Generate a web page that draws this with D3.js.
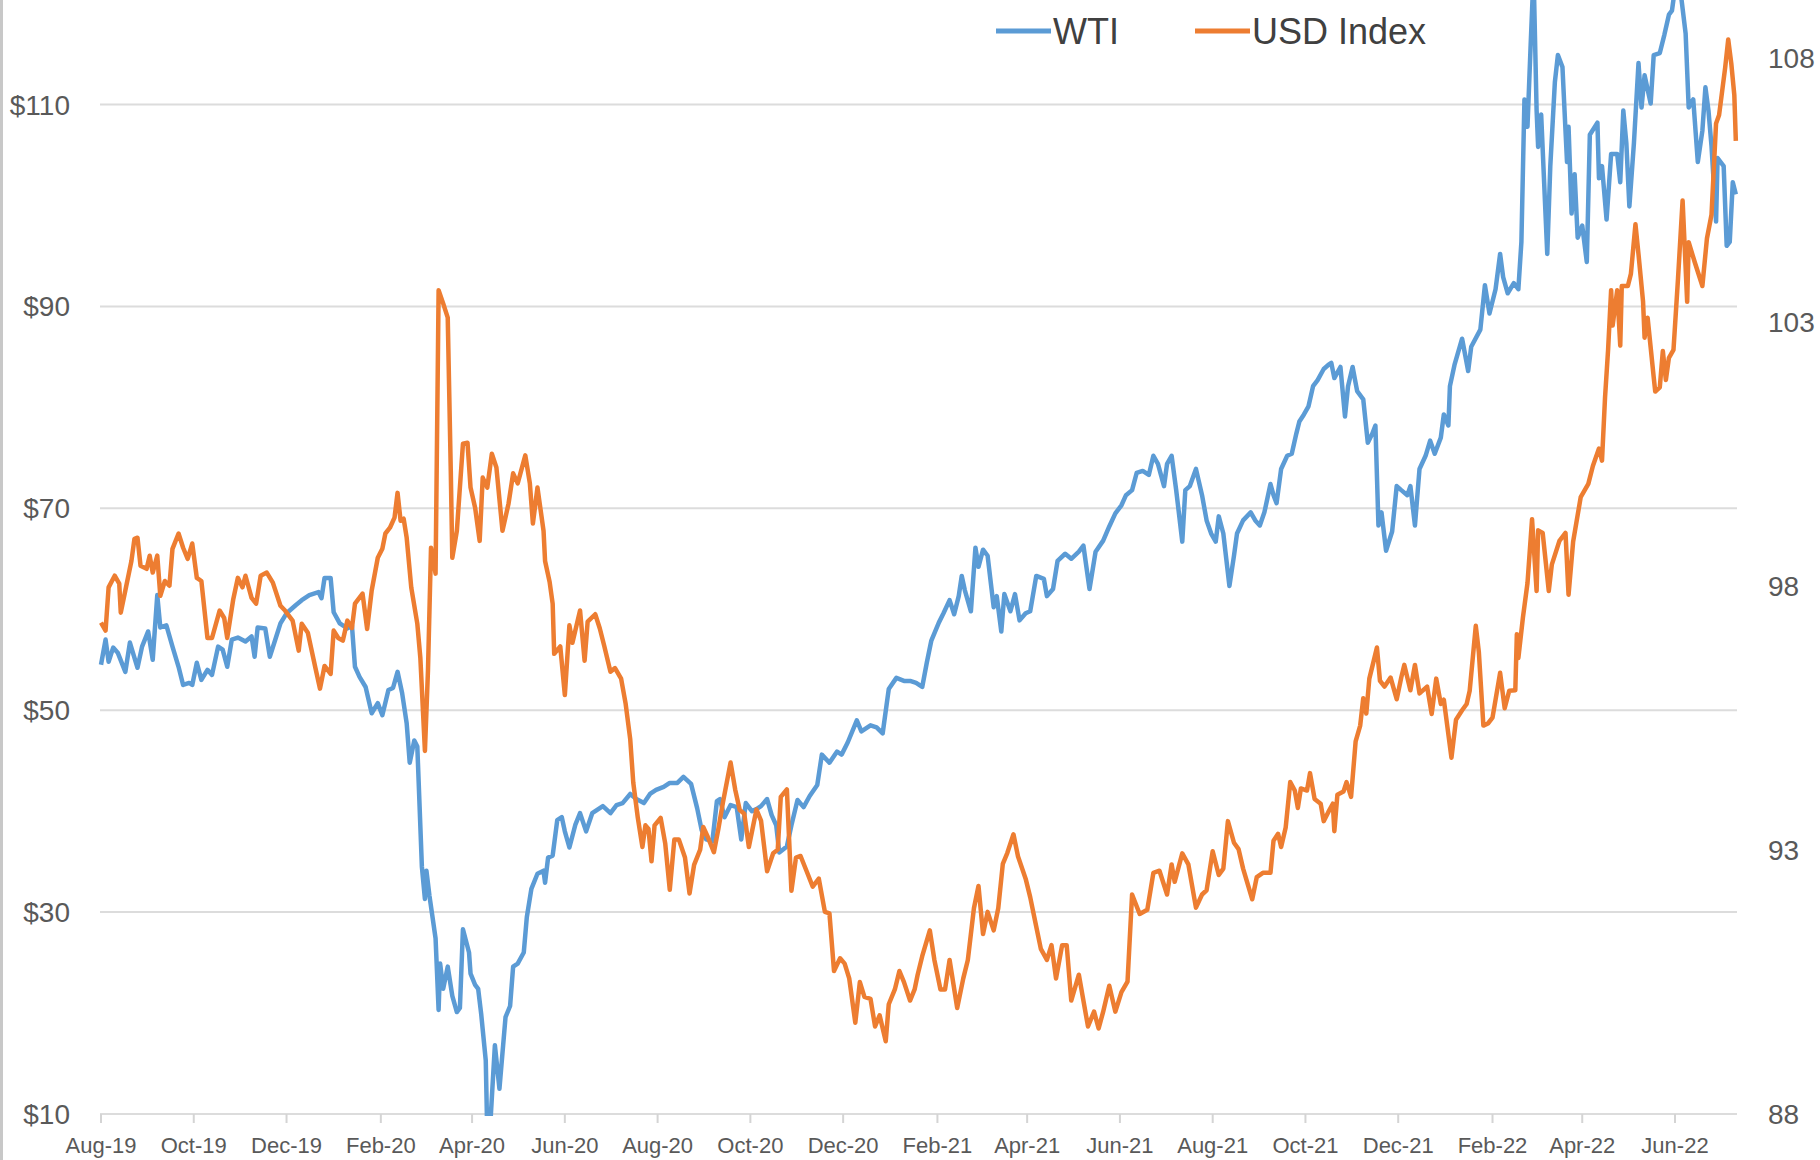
<!DOCTYPE html>
<html>
<head>
<meta charset="utf-8">
<script src="https://cdn.jsdelivr.net/npm/d3@7"></script>
<style>
  html, body { margin: 0; padding: 0; background: #fff; }
  svg { display: block; font-family: "Liberation Sans", Arial, sans-serif; }
</style>
</head>
<body>
<svg id="chart" width="1820" height="1160"></svg>
<script>
// values
const wti = [
  ["2019-08-01",54.5],["2019-08-04",57.0],["2019-08-06",54.8],["2019-08-09",56.2],["2019-08-12",55.7],["2019-08-17",53.8],["2019-08-20",56.7],["2019-08-25",54.2],["2019-08-28",56.3],["2019-09-01",57.8],["2019-09-04",55.0],["2019-09-07",61.4],["2019-09-09",58.2],["2019-09-13",58.4],["2019-09-17",56.3],["2019-09-21",54.3],["2019-09-24",52.5],["2019-09-28",52.7],["2019-09-30",52.5],
  ["2019-10-03",54.7],["2019-10-06",53.0],["2019-10-10",54.0],["2019-10-13",53.5],["2019-10-17",56.3],["2019-10-20",56.0],["2019-10-23",54.3],["2019-10-26",57.0],["2019-10-30",57.2],["2019-11-04",56.8],["2019-11-08",57.3],["2019-11-10",55.3],["2019-11-12",58.2],["2019-11-17",58.1],["2019-11-20",55.3],["2019-11-23",56.7],["2019-11-27",58.6],
  ["2019-12-01",59.6],["2019-12-07",60.4],["2019-12-11",60.9],["2019-12-16",61.4],["2019-12-22",61.7],["2019-12-24",61.1],["2019-12-26",63.1],["2019-12-30",63.1],["2020-01-01",59.7],["2020-01-05",58.6],["2020-01-10",58.1],["2020-01-13",58.4],["2020-01-15",54.3],["2020-01-18",53.3],["2020-01-22",52.3],["2020-01-26",49.7],["2020-01-30",50.7],
  ["2020-02-02",49.5],["2020-02-06",52.0],["2020-02-09",52.2],["2020-02-12",53.8],["2020-02-15",51.7],["2020-02-18",48.7],["2020-02-20",44.8],["2020-02-23",47.0],["2020-02-25",46.4],["2020-02-28",34.5],["2020-03-01",31.3],["2020-03-02",34.1],["2020-03-04",31.6],["2020-03-08",27.4],["2020-03-10",20.3],["2020-03-11",24.9],["2020-03-13",22.4],["2020-03-16",24.6],["2020-03-19",21.7],["2020-03-22",20.1],["2020-03-24",20.5],["2020-03-26",28.3],["2020-03-30",26.0],["2020-03-31",23.9],
  ["2020-04-03",22.8],["2020-04-05",22.4],["2020-04-07",19.9],["2020-04-10",15.3],["2020-04-11",8.0],["2020-04-13",9.0],["2020-04-16",16.8],["2020-04-19",12.5],["2020-04-23",19.6],["2020-04-26",20.7],["2020-04-28",24.6],["2020-05-01",24.9],["2020-05-05",26.0],["2020-05-07",29.5],["2020-05-10",32.3],["2020-05-14",33.8],["2020-05-18",34.1],["2020-05-19",32.9],["2020-05-21",35.4],["2020-05-24",35.6],["2020-05-27",39.1],["2020-05-30",39.4],
  ["2020-06-01",38.0],["2020-06-04",36.4],["2020-06-08",38.7],["2020-06-11",39.8],["2020-06-15",38.0],["2020-06-19",39.8],["2020-06-22",40.1],["2020-06-26",40.5],["2020-07-01",39.8],["2020-07-05",40.6],["2020-07-09",40.8],["2020-07-14",41.7],["2020-07-18",41.2],["2020-07-23",40.8],["2020-07-27",41.7],["2020-07-31",42.1],
  ["2020-08-05",42.4],["2020-08-09",42.8],["2020-08-14",42.8],["2020-08-18",43.4],["2020-08-23",42.7],["2020-08-27",40.3],["2020-08-30",38.1],["2020-09-02",37.2],["2020-09-06",37.0],["2020-09-09",41.0],["2020-09-11",41.2],["2020-09-14",39.4],["2020-09-18",40.6],["2020-09-22",40.4],["2020-09-25",37.2],["2020-09-28",40.8],
  ["2020-10-02",40.0],["2020-10-05",40.2],["2020-10-08",40.5],["2020-10-12",41.2],["2020-10-15",39.6],["2020-10-18",38.6],["2020-10-20",35.9],["2020-10-25",36.5],["2020-10-28",38.6],["2020-11-01",41.1],["2020-11-05",40.4],["2020-11-09",41.5],["2020-11-14",42.6],["2020-11-17",45.6],["2020-11-22",44.8],["2020-11-27",45.9],["2020-11-30",45.6],
  ["2020-12-04",46.8],["2020-12-10",49.0],["2020-12-13",47.9],["2020-12-19",48.5],["2020-12-23",48.3],["2020-12-27",47.7],["2020-12-31",52.1],["2021-01-05",53.2],["2021-01-10",52.9],["2021-01-14",52.9],["2021-01-18",52.7],["2021-01-22",52.3],["2021-01-25",54.7],["2021-01-28",56.9],
  ["2021-02-02",58.7],["2021-02-05",59.6],["2021-02-09",60.9],["2021-02-12",59.5],["2021-02-15",61.3],["2021-02-17",63.3],["2021-02-19",61.9],["2021-02-23",59.8],["2021-02-26",66.1],["2021-02-28",64.2],["2021-03-03",65.9],["2021-03-06",65.3],["2021-03-10",60.2],["2021-03-12",61.3],["2021-03-15",57.8],["2021-03-17",61.5],["2021-03-21",59.8],["2021-03-24",61.5],["2021-03-27",58.9],["2021-03-31",59.6],
  ["2021-04-03",59.8],["2021-04-07",63.3],["2021-04-12",63.0],["2021-04-14",61.3],["2021-04-18",62.0],["2021-04-21",64.8],["2021-04-26",65.5],["2021-04-30",65.0],["2021-05-05",65.7],["2021-05-08",66.3],["2021-05-12",62.0],["2021-05-16",65.7],["2021-05-21",66.8],["2021-05-25",68.2],["2021-05-29",69.5],
  ["2021-06-02",70.3],["2021-06-05",71.3],["2021-06-09",71.8],["2021-06-12",73.5],["2021-06-16",73.7],["2021-06-20",73.3],["2021-06-23",75.2],["2021-06-26",74.4],["2021-06-30",72.2],["2021-07-02",74.4],["2021-07-05",75.2],["2021-07-08",71.8],["2021-07-12",66.7],["2021-07-14",71.8],["2021-07-17",72.2],["2021-07-21",73.9],["2021-07-25",71.3],["2021-07-28",68.8],["2021-07-31",67.5],
  ["2021-08-03",66.7],["2021-08-05",69.2],["2021-08-08",67.5],["2021-08-10",64.9],["2021-08-12",62.3],["2021-08-15",65.3],["2021-08-17",67.5],["2021-08-21",68.8],["2021-08-26",69.6],["2021-08-29",68.8],["2021-09-01",68.3],["2021-09-04",69.6],["2021-09-08",72.4],["2021-09-10",71.3],["2021-09-12",70.5],["2021-09-15",73.9],["2021-09-19",75.2],["2021-09-22",75.4],["2021-09-25",77.4],["2021-09-27",78.6],["2021-09-30",79.3],
  ["2021-10-03",80.1],["2021-10-06",82.1],["2021-10-09",82.7],["2021-10-13",83.8],["2021-10-16",84.2],["2021-10-18",84.4],["2021-10-20",82.9],["2021-10-24",84.0],["2021-10-27",79.1],["2021-10-29",82.1],["2021-11-01",84.0],["2021-11-04",81.6],["2021-11-08",80.8],["2021-11-11",76.5],["2021-11-14",77.4],["2021-11-16",78.2],["2021-11-18",68.3],["2021-11-20",69.6],["2021-11-23",65.8],["2021-11-27",67.7],["2021-11-30",72.2],
  ["2021-12-03",71.8],["2021-12-07",71.3],["2021-12-09",72.2],["2021-12-12",68.3],["2021-12-15",73.9],["2021-12-19",75.2],["2021-12-22",76.7],["2021-12-25",75.4],["2021-12-29",77.0],["2021-12-31",79.3],["2022-01-03",78.2],["2022-01-04",82.1],["2022-01-07",84.2],["2022-01-12",86.8],["2022-01-16",83.6],["2022-01-18",86.0],["2022-01-24",87.7],["2022-01-27",92.1],["2022-01-30",89.3],
  ["2022-02-03",91.7],["2022-02-06",95.2],["2022-02-08",92.9],["2022-02-11",91.3],["2022-02-15",92.3],["2022-02-18",91.7],["2022-02-20",96.4],["2022-02-22",110.5],["2022-02-24",107.8],["2022-02-26",115.6],["2022-02-28",123.0],["2022-03-02",109.4],["2022-03-03",105.8],["2022-03-05",109.0],["2022-03-09",95.2],["2022-03-11",103.9],["2022-03-14",112.2],["2022-03-16",114.9],["2022-03-19",113.7],["2022-03-21",107.4],["2022-03-22",104.3],["2022-03-23",107.8],["2022-03-25",99.2],["2022-03-27",103.1],["2022-03-29",96.8],
  ["2022-04-01",98.0],["2022-04-04",94.4],["2022-04-06",107.0],["2022-04-11",108.2],["2022-04-12",102.7],["2022-04-14",103.9],["2022-04-17",98.6],["2022-04-20",105.1],["2022-04-24",105.1],["2022-04-26",102.3],["2022-04-28",109.4],["2022-04-30",106.2],["2022-05-02",99.9],["2022-05-05",106.2],["2022-05-08",114.1],["2022-05-10",109.7],["2022-05-12",112.9],["2022-05-16",110.1],["2022-05-18",114.9],["2022-05-22",115.1],["2022-05-25",116.9],["2022-05-28",118.9],["2022-05-30",119.3],
  ["2022-06-01",121.5],["2022-06-04",122.0],["2022-06-08",117.0],["2022-06-10",109.7],["2022-06-13",110.5],["2022-06-16",104.3],["2022-06-19",107.4],["2022-06-21",111.7],["2022-06-23",109.4],["2022-06-25",105.9],["2022-06-28",98.4],["2022-06-29",104.7],["2022-07-03",103.9],["2022-07-05",96.0],["2022-07-07",96.4],["2022-07-09",102.3],["2022-07-11",101.1]
];

const usd = [
  ["2019-08-01",97.30],["2019-08-04",97.15],["2019-08-06",97.97],["2019-08-10",98.19],["2019-08-13",98.04],["2019-08-14",97.49],["2019-08-17",97.91],["2019-08-21",98.47],["2019-08-23",98.89],["2019-08-25",98.91],["2019-08-27",98.38],["2019-08-31",98.32],["2019-09-02",98.57],["2019-09-04",98.25],["2019-09-07",98.57],["2019-09-09",97.81],["2019-09-12",98.09],["2019-09-15",98.0],["2019-09-17",98.70],["2019-09-21",98.99],["2019-09-24",98.72],["2019-09-27",98.51],["2019-09-30",98.80],
  ["2019-10-03",98.15],["2019-10-06",98.09],["2019-10-10",97.01],["2019-10-13",97.01],["2019-10-18",97.53],["2019-10-21",97.39],["2019-10-23",97.01],["2019-10-27",97.75],["2019-10-30",98.15],["2019-11-02",97.97],["2019-11-04",98.19],["2019-11-08",97.77],["2019-11-11",97.66],["2019-11-14",98.19],["2019-11-18",98.25],["2019-11-22",98.06],["2019-11-27",97.62],["2019-11-30",97.53],
  ["2019-12-05",97.34],["2019-12-09",96.77],["2019-12-11",97.28],["2019-12-15",97.11],["2019-12-20",96.44],["2019-12-23",96.05],["2019-12-26",96.48],["2019-12-30",96.33],["2020-01-01",97.15],["2020-01-04",97.01],["2020-01-07",96.96],["2020-01-10",97.34],["2020-01-13",97.20],["2020-01-15",97.66],["2020-01-20",97.85],["2020-01-23",97.18],["2020-01-26",97.91],["2020-01-30",98.53],
  ["2020-02-02",98.70],["2020-02-04",98.99],["2020-02-07",99.10],["2020-02-10",99.29],["2020-02-12",99.76],["2020-02-14",99.23],["2020-02-16",99.27],["2020-02-18",98.91],["2020-02-21",97.97],["2020-02-25",97.28],["2020-02-27",96.63],["2020-03-01",94.87],["2020-03-03",96.39],["2020-03-05",98.72],["2020-03-08",98.23],["2020-03-10",103.6],["2020-03-13",103.35],["2020-03-16",103.08],["2020-03-18",100.18],["2020-03-19",98.53],["2020-03-22",99.04],["2020-03-26",100.69],["2020-03-29",100.71],["2020-03-31",99.86],
  ["2020-04-03",99.48],["2020-04-06",98.85],["2020-04-08",100.05],["2020-04-11",99.86],["2020-04-14",100.50],["2020-04-17",100.24],["2020-04-21",99.04],["2020-04-25",99.56],["2020-04-28",100.13],["2020-05-01",99.94],["2020-05-06",100.47],["2020-05-09",99.94],["2020-05-11",99.18],["2020-05-14",99.86],["2020-05-18",99.04],["2020-05-19",98.47],["2020-05-22",98.07],["2020-05-24",97.66],["2020-05-25",96.71],["2020-05-29",96.85],
  ["2020-06-01",95.93],["2020-06-04",97.25],["2020-06-06",96.92],["2020-06-11",97.53],["2020-06-14",96.58],["2020-06-16",97.32],["2020-06-21",97.46],["2020-06-24",97.19],["2020-06-27",96.85],["2020-07-01",96.37],["2020-07-04",96.44],["2020-07-08",96.24],["2020-07-11",95.76],["2020-07-14",95.09],["2020-07-16",94.27],["2020-07-19",93.60],["2020-07-22",93.05],["2020-07-24",93.46],["2020-07-26",93.39],["2020-07-28",92.78],["2020-07-30",93.46],
  ["2020-08-03",93.60],["2020-08-06",93.12],["2020-08-09",92.24],["2020-08-12",93.19],["2020-08-15",93.19],["2020-08-19",92.85],["2020-08-22",92.17],["2020-08-25",92.71],["2020-08-29",93.0],["2020-08-31",93.43],["2020-09-03",93.24],["2020-09-07",92.95],["2020-09-10",93.4],["2020-09-13",93.9],["2020-09-18",94.65],["2020-09-21",94.14],["2020-09-24",93.75],["2020-09-27",93.68],["2020-09-30",93.05],
  ["2020-10-05",93.76],["2020-10-08",93.55],["2020-10-12",92.59],["2020-10-16",92.93],["2020-10-19",93.0],["2020-10-21",94.0],["2020-10-25",94.14],["2020-10-28",92.22],["2020-10-31",92.85],["2020-11-03",92.88],["2020-11-07",92.59],["2020-11-11",92.3],["2020-11-15",92.45],["2020-11-19",91.82],["2020-11-22",91.79],["2020-11-25",90.70],["2020-11-29",90.94],
  ["2020-12-02",90.84],["2020-12-05",90.56],["2020-12-09",89.72],["2020-12-12",90.49],["2020-12-15",90.21],["2020-12-19",90.17],["2020-12-22",89.65],["2020-12-25",89.86],["2020-12-29",89.37],["2020-12-31",90.07],["2021-01-04",90.35],["2021-01-07",90.70],["2021-01-10",90.49],["2021-01-14",90.14],["2021-01-17",90.35],["2021-01-19",90.63],["2021-01-22",90.98],["2021-01-27",91.47],["2021-01-30",90.91],
  ["2021-02-03",90.35],["2021-02-06",90.35],["2021-02-09",90.91],["2021-02-14",90.0],["2021-02-18",90.56],["2021-02-21",90.91],["2021-02-25",91.89],["2021-02-28",92.31],["2021-03-03",91.40],["2021-03-06",91.82],["2021-03-10",91.47],["2021-03-13",91.89],["2021-03-16",92.73],["2021-03-19",92.94],["2021-03-23",93.29],["2021-03-26",92.87],["2021-03-31",92.45],
  ["2021-04-03",92.10],["2021-04-07",91.54],["2021-04-10",91.12],["2021-04-14",90.91],["2021-04-17",91.19],["2021-04-20",90.56],["2021-04-24",91.19],["2021-04-27",91.19],["2021-04-30",90.14],["2021-05-05",90.63],["2021-05-08",90.14],["2021-05-11",89.65],["2021-05-15",89.93],["2021-05-18",89.61],["2021-05-21",89.93],["2021-05-25",90.42],["2021-05-29",89.93],
  ["2021-06-02",90.3],["2021-06-06",90.50],["2021-06-09",92.15],["2021-06-14",91.78],["2021-06-19",91.86],["2021-06-23",92.56],["2021-06-27",92.60],["2021-07-02",92.15],["2021-07-05",92.72],["2021-07-07",92.39],["2021-07-12",92.93],["2021-07-16",92.72],["2021-07-21",91.90],["2021-07-25",92.15],["2021-07-28",92.23],
  ["2021-08-01",92.97],["2021-08-05",92.52],["2021-08-08",92.64],["2021-08-11",93.54],["2021-08-15",93.13],["2021-08-18",93.01],["2021-08-21",92.64],["2021-08-27",92.06],["2021-08-30",92.48],["2021-09-03",92.56],["2021-09-08",92.56],["2021-09-10",93.17],["2021-09-13",93.30],["2021-09-15",93.05],["2021-09-18",93.42],["2021-09-21",94.28],["2021-09-24",94.12],["2021-09-26",93.79],["2021-09-28",94.16],
  ["2021-10-02",94.12],["2021-10-04",94.45],["2021-10-07",93.96],["2021-10-11",93.87],["2021-10-13",93.54],["2021-10-16",93.71],["2021-10-19",93.87],["2021-10-20",93.35],["2021-10-22",94.04],["2021-10-26",94.1],["2021-10-28",94.28],["2021-10-31",94.0],["2021-11-03",95.05],["2021-11-06",95.35],["2021-11-08",95.87],["2021-11-10",95.58],["2021-11-12",96.24],["2021-11-15",96.59],["2021-11-17",96.83],["2021-11-19",96.2],["2021-11-22",96.09],["2021-11-26",96.26],["2021-11-30",95.85],
  ["2021-12-03",96.26],["2021-12-05",96.50],["2021-12-09",96.02],["2021-12-12",96.50],["2021-12-15",95.96],["2021-12-20",96.09],["2021-12-23",95.57],["2021-12-26",96.24],["2021-12-29",95.76],["2021-12-31",95.84],["2022-01-05",94.74],["2022-01-08",95.46],["2022-01-12",95.64],["2022-01-15",95.76],["2022-01-17",96.01],["2022-01-21",97.24],["2022-01-23",96.75],["2022-01-26",95.35],["2022-01-29",95.39],
  ["2022-02-01",95.5],["2022-02-05",96.18],["2022-02-06",96.35],["2022-02-09",95.68],["2022-02-12",96.01],["2022-02-16",96.02],["2022-02-17",97.08],["2022-02-18",96.63],["2022-02-21",97.4],["2022-02-24",98.05],["2022-02-27",99.26],["2022-03-02",97.90],["2022-03-03",99.05],["2022-03-06",99.0],["2022-03-10",97.90],["2022-03-12",98.4],["2022-03-17",98.85],["2022-03-21",99.0],["2022-03-23",97.83],["2022-03-26",98.83],["2022-03-31",99.68],
  ["2022-04-05",99.93],["2022-04-08",100.27],["2022-04-12",100.6],["2022-04-14",100.37],["2022-04-16",101.57],["2022-04-18",102.47],["2022-04-20",103.60],["2022-04-21",102.93],["2022-04-24",103.60],["2022-04-26",102.55],["2022-04-27",103.68],["2022-05-01",103.68],["2022-05-03",103.91],["2022-05-06",104.85],["2022-05-08",104.28],["2022-05-11",103.38],["2022-05-12",102.70],["2022-05-14",103.08],["2022-05-18",101.95],["2022-05-19",101.68],["2022-05-22",101.76],["2022-05-24",102.45],["2022-05-26",101.9],["2022-05-28",102.32],["2022-05-31",102.47],
  ["2022-06-03",103.83],["2022-06-06",105.30],["2022-06-09",103.38],["2022-06-10",104.51],["2022-06-14",104.13],["2022-06-19",103.68],["2022-06-22",104.58],["2022-06-25",105.03],["2022-06-28",106.76],["2022-06-30",106.92],["2022-07-04",107.82],["2022-07-06",108.35],["2022-07-08",107.90],["2022-07-10",107.30],["2022-07-11",106.43]
];

const leftTicks = [10, 30, 50, 70, 90, 110];
const rightTicks = [88, 93, 98, 103, 108];
const legendItems = [
  { name: "WTI", color: "#5b9bd5" },
  { name: "USD Index", color: "#ed7d31" }
];

const parse = d3.utcParse("%Y-%m-%d");
const fmt = d3.utcFormat("%b-%y");

const svg = d3.select("#chart");
svg.append("rect").attr("width", 1820).attr("height", 1160).attr("fill", "#fff");

// chart border on the left edge
svg.append("line")
  .attr("x1", 1.5).attr("x2", 1.5).attr("y1", 0).attr("y2", 1160)
  .attr("stroke", "#c8c8c8").attr("stroke-width", 3);

const plotLeft = 100, plotRight = 1737;

let x = d3.scaleUtc()
  .domain([parse("2019-08-01"), parse("2022-06-01")])
  .range([101, 1675]);

let yL = d3.scaleLinear().domain([10, 110]).range([1114, 104.5]);
let yR = d3.scaleLinear().domain([88, 108]).range([1113.5, 58]);

// gridlines
svg.append("g")
  .selectAll("line")
  .data(leftTicks)
  .enter()
  .append("line")
  .attr("x1", plotLeft).attr("x2", plotRight)
  .attr("y1", d => yL(d)).attr("y2", d => yL(d))
  .attr("stroke", "#dcdcdc")
  .attr("stroke-width", 2);

// x axis ticks and labels, every second month from Aug-19
let monthTicks = d3.utcMonth.range(parse("2019-08-01"), parse("2022-07-01"), 2);

svg.append("g")
  .selectAll("line")
  .data(monthTicks)
  .enter()
  .append("line")
  .attr("x1", d => x(d)).attr("x2", d => x(d))
  .attr("y1", yL(10)).attr("y2", yL(10) + 9)
  .attr("stroke", "#d4d4d4")
  .attr("stroke-width", 2);

svg.append("g")
  .selectAll("text")
  .data(monthTicks)
  .enter()
  .append("text")
  .attr("x", d => x(d))
  .attr("y", 1153)
  .attr("text-anchor", "middle")
  .attr("font-size", 22)
  .attr("fill", "#595959")
  .text(d => fmt(d));

// left axis labels
svg.append("g")
  .selectAll("text")
  .data(leftTicks)
  .enter()
  .append("text")
  .attr("x", 70)
  .attr("y", d => yL(d))
  .attr("dy", "0.36em")
  .attr("text-anchor", "end")
  .attr("font-size", 28)
  .attr("fill", "#595959")
  .text(d => "$" + d);

// right axis labels
svg.append("g")
  .selectAll("text")
  .data(rightTicks)
  .enter()
  .append("text")
  .attr("x", 1768)
  .attr("y", d => yR(d))
  .attr("dy", "0.36em")
  .attr("text-anchor", "start")
  .attr("font-size", 28)
  .attr("fill", "#595959")
  .text(d => d);

// series, clipped to the plot area
svg.append("clipPath").attr("id", "plotClip")
  .append("rect")
  .attr("x", plotLeft - 5).attr("y", -50)
  .attr("width", plotRight - plotLeft + 10)
  .attr("height", yL(10) + 52);

let plot = svg.append("g").attr("clip-path", "url(#plotClip)");

let lineL = d3.line().x(d => x(parse(d[0]))).y(d => yL(d[1]));
let lineR = d3.line().x(d => x(parse(d[0]))).y(d => yR(d[1]));

plot.append("path")
  .attr("d", lineL(wti))
  .attr("fill", "none")
  .attr("stroke", legendItems[0].color)
  .attr("stroke-width", 4.5)
  .attr("stroke-linejoin", "round");

plot.append("path")
  .attr("d", lineR(usd))
  .attr("fill", "none")
  .attr("stroke", legendItems[1].color)
  .attr("stroke-width", 4.5)
  .attr("stroke-linejoin", "round");

// legend
let legendX = [996, 1195];
let legend = svg.append("g")
  .selectAll("g")
  .data(legendItems)
  .enter()
  .append("g")
  .attr("transform", (d, i) => `translate(${legendX[i]},31)`);

legend.append("line")
  .attr("x1", 0).attr("x2", 55)
  .attr("stroke", d => d.color)
  .attr("stroke-width", 5);

legend.append("text")
  .attr("x", 57)
  .attr("dy", "0.36em")
  .attr("font-size", 36)
  .attr("fill", "#404040")
  .text(d => d.name);
</script>
</body>
</html>
